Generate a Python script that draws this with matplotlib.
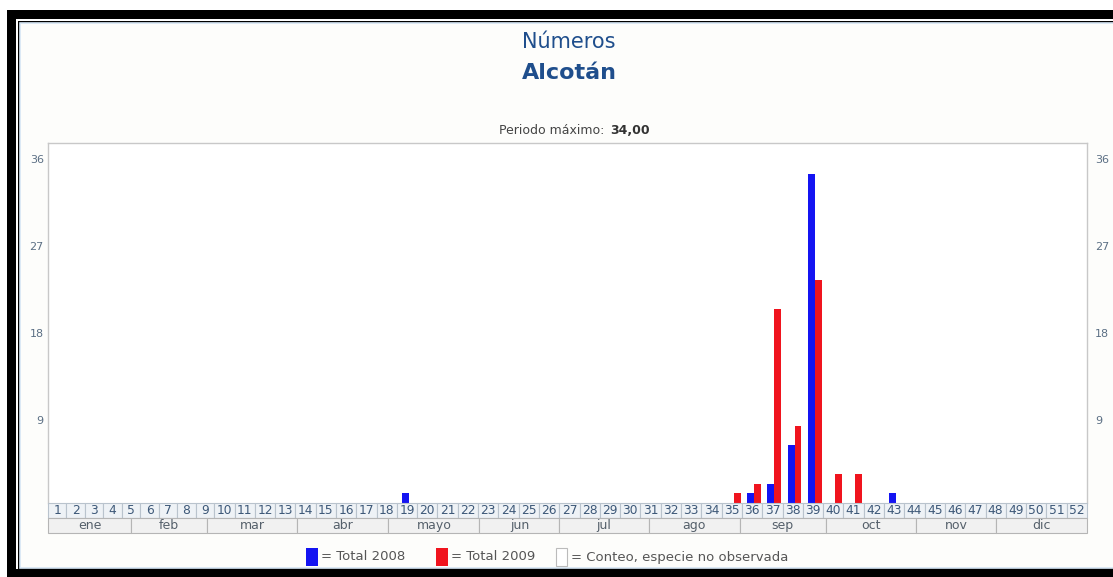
import numpy as np
import matplotlib
matplotlib.use("Agg")
import matplotlib.pyplot as plt
from matplotlib.patches import Rectangle

# data (counts per week)
weeks = np.arange(1, 53)
weeks_2008 = [19, 36, 37, 38, 39, 43]
counts_2008 = [1, 1, 2, 6, 34, 1]
weeks_2009 = [35, 36, 37, 38, 39, 40, 41]
counts_2009 = [1, 2, 20, 8, 23, 3, 3]

months = ["ene", "feb", "mar", "abr", "mayo", "jun", "jul", "ago", "sep", "oct", "nov", "dic"]
y_ticks = [9, 18, 27, 36]

title_top = "Números"
title_species = "Alcotán"
max_period = "34,00"

blue = "#1414f2"
red = "#f0141e"
title_col = "#1f4e8c"
tick_col = "#5b6f84"

W, H = 1113, 577
fig = plt.figure(figsize=(W / 100, H / 100), dpi=100)
fig.patch.set_facecolor("white")


def frac(x0, y0, x1, y1):
    return [x0 / W, 1 - y1 / H, (x1 - x0) / W, (y1 - y0) / H]


# background / frame in pixel coordinates
bg = fig.add_axes([0, 0, 1, 1])
bg.set_xlim(0, W)
bg.set_ylim(H, 0)
bg.axis("off")
bg.add_patch(Rectangle((7, 10), W, H, facecolor="black", edgecolor="none"))
bg.add_patch(Rectangle((16, 19), W, 550, facecolor="white", edgecolor="none"))
bg.add_patch(Rectangle((18, 21), W, 548, facecolor="black", edgecolor="none"))
bg.add_patch(Rectangle((20, 23), W, 545, facecolor="#fdfdfb", edgecolor="#d6e6f4", lw=1.2))

bg.text(569, 42, title_top, ha="center", va="center", fontsize=15, color=title_col)
bg.text(569, 73, title_species, ha="center", va="center", fontsize=16,
        fontweight="bold", color=title_col)
bg.text(604, 131, "Periodo máximo:", ha="right", va="center", fontsize=9, color="#444444")
bg.text(610, 131, max_period, ha="left", va="center", fontsize=9,
        fontweight="bold", color="#333333")

# legend
leg_y = 557
fs_leg = 9.5
bg.add_patch(Rectangle((306, 548), 12, 18, facecolor=blue, edgecolor="none"))
bg.text(321, leg_y, "= Total 2008", ha="left", va="center", fontsize=fs_leg, color="#555555")
bg.add_patch(Rectangle((436, 548), 12, 18, facecolor=red, edgecolor="none"))
bg.text(451, leg_y, "= Total 2009", ha="left", va="center", fontsize=fs_leg, color="#555555")
bg.add_patch(Rectangle((556, 548), 11, 18, facecolor="white", edgecolor="#bbbbbb", lw=0.8))
bg.text(571, leg_y, "= Conteo, especie no observada", ha="left", va="center",
        fontsize=fs_leg, color="#555555")

# week cells: single-digit weeks are a bit narrower
cell_w = np.where(weeks < 10, 0.91, 1.0)
edges = np.concatenate([[0], np.cumsum(cell_w)])
centers = (edges[:-1] + edges[1:]) / 2
total = edges[-1]

# month spans (pixel widths as laid out in the table)
month_px = [83, 76, 90, 91, 91, 80, 89, 91, 86, 90, 80, 91]
month_edges = np.concatenate([[0], np.cumsum(month_px)])
month_edges = month_edges / month_edges[-1] * total

# main bar area
ax = fig.add_axes(frac(48, 143, 1087, 503))
ax.set_xlim(0, total)
ax.set_ylim(0, 37.2)
ax.set_facecolor("white")
for s in ["left", "right", "top"]:
    ax.spines[s].set_color("#c8c8c8")
    ax.spines[s].set_linewidth(1.0)
ax.spines["bottom"].set_visible(False)
ax.set_xticks([])
ax.set_yticks(y_ticks)
ax.set_yticklabels([str(v) for v in y_ticks])
ax.tick_params(axis="y", length=0, labelsize=8, labelcolor=tick_col,
               labelright=True, pad=3)
for lbl in ax.get_yticklabels() + ax.yaxis.get_ticklabels(which="major"):
    lbl.set_va("top")
for t in ax.yaxis.get_major_ticks():
    t.label2.set_va("top")
    t.label2.set_x(1.004)

bw = 0.34
idx08 = np.array(weeks_2008) - 1
idx09 = np.array(weeks_2009) - 1
ax.bar(centers[idx08] - 0.08, counts_2008, width=bw, color=blue, zorder=3)
ax.bar(centers[idx09] + 0.26, counts_2009, width=bw, color=red, zorder=3)

# week / month table below the bars
wax = fig.add_axes(frac(48, 503, 1087, 533))
wax.set_xlim(0, total)
wax.set_ylim(2, 0)
wax.axis("off")
for i, w in enumerate(weeks):
    wax.add_patch(Rectangle((edges[i], 0), cell_w[i], 1, facecolor="#eef2f6",
                            edgecolor="#b9c3cd", lw=0.8, clip_on=False))
    wax.text(centers[i], 0.52, str(w), ha="center", va="center", fontsize=8.8,
             color="#3d5878")
for i, m in enumerate(months):
    x0, x1 = month_edges[i], month_edges[i + 1]
    wax.add_patch(Rectangle((x0, 1), x1 - x0, 1, facecolor="#f1f1f1",
                            edgecolor="#b5b5b5", lw=0.8, clip_on=False))
    wax.text((x0 + x1) / 2, 1.5, m, ha="center", va="center", fontsize=9,
             color="#55606b")

fig.savefig("out.png", dpi=100)
